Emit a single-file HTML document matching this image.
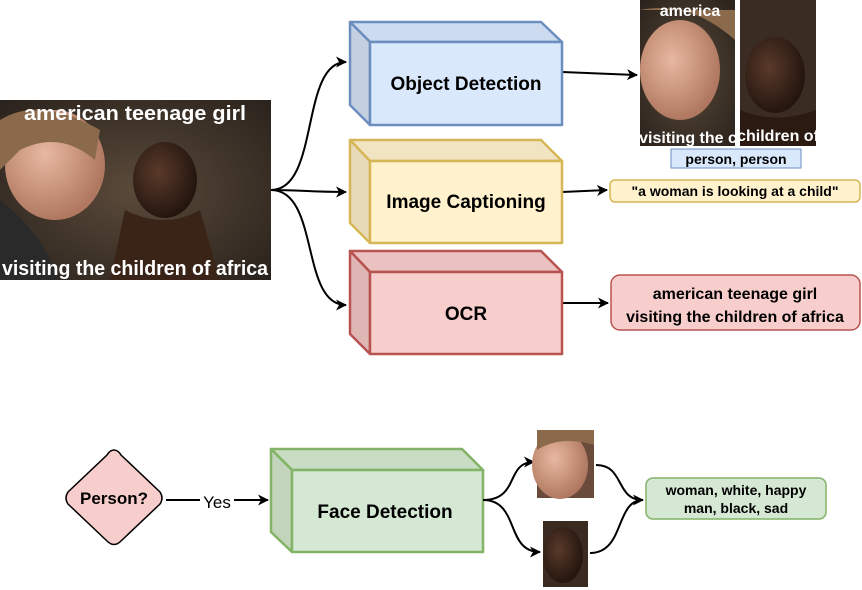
<!DOCTYPE html>
<html><head><meta charset="utf-8"><style>
html,body{margin:0;padding:0;background:#fff}
svg{display:block}
text{font-family:"Liberation Sans",Arial,sans-serif}
</style></head><body>
<svg width="862" height="590" viewBox="0 0 862 590" xmlns="http://www.w3.org/2000/svg">
<defs>
<marker id="ah" markerWidth="11" markerHeight="11" refX="10" refY="5.5" orient="auto" markerUnits="userSpaceOnUse"><path d="M0,0 L11,5.5 L0,11 L3,5.5 z" fill="#000"/></marker>
<radialGradient id="bg1" cx="0.5" cy="0.5" r="0.7"><stop offset="0" stop-color="#5a4a3a"/><stop offset="1" stop-color="#2a221c"/></radialGradient>
<radialGradient id="skinW" cx="0.4" cy="0.4" r="0.6"><stop offset="0" stop-color="#e8b8a0"/><stop offset="1" stop-color="#b07860"/></radialGradient>
<radialGradient id="skinB" cx="0.4" cy="0.4" r="0.6"><stop offset="0" stop-color="#5a3a2a"/><stop offset="1" stop-color="#24160f"/></radialGradient>
</defs>

<g>
<rect x="0" y="100" width="271" height="180" fill="url(#bg1)"/>
<ellipse cx="55" cy="165" rx="50" ry="55" fill="url(#skinW)"/>
<path d="M0,120 Q40,95 100,130 L95,160 Q60,130 20,150 L0,170z" fill="#8a6a4a"/>
<path d="M0,200 Q40,230 60,280 L0,280z" fill="#2a2a2a"/>
<ellipse cx="165" cy="180" rx="32" ry="38" fill="url(#skinB)"/>
<path d="M125,210 Q165,230 200,210 L220,280 L110,280z" fill="#3a2418"/>
<text x="135" y="120" text-anchor="middle" font-size="20" font-weight="bold" fill="#fff" textLength="222" lengthAdjust="spacingAndGlyphs">american teenage girl</text>
<text x="135" y="275" text-anchor="middle" font-size="20" font-weight="bold" fill="#fff" textLength="266" lengthAdjust="spacingAndGlyphs">visiting the children of africa</text>
</g>

<g fill="none" stroke="#000" stroke-width="2">
<path d="M271,190 C320,190 300,62 346,62" marker-end="url(#ah)"/>
<path d="M271,190 C300,190 310,192 346,192" marker-end="url(#ah)"/>
<path d="M271,190 C320,190 300,305 346,305" marker-end="url(#ah)"/>
<path d="M562,72 L637,75" marker-end="url(#ah)"/>
<path d="M562,192 L607,190" marker-end="url(#ah)"/>
<path d="M562,303 L608,303" marker-end="url(#ah)"/>
</g>

<g stroke="#6c8ebf" stroke-width="2.5" stroke-linejoin="round">
<polygon points="350,22 541,22 562,42 370,42" fill="#ccdbef"/>
<polygon points="350,22 370,42 370,125 350,105" fill="#c4d0e0"/>
<rect x="370" y="42" width="192" height="83" fill="#dae8fc"/>
<text x="466" y="90" text-anchor="middle" font-size="19" font-weight="bold" stroke="none" fill="#000">Object Detection</text>
</g>
<g stroke="#d6b656" stroke-width="2.5" stroke-linejoin="round">
<polygon points="350,140 541,140 562,161 370,161" fill="#f1e4c2"/>
<polygon points="350,140 370,161 370,243 350,223" fill="#e6dab8"/>
<rect x="370" y="161" width="192" height="82" fill="#fff2cc"/>
<text x="466" y="208" text-anchor="middle" font-size="19" font-weight="bold" stroke="none" fill="#000">Image Captioning</text>
</g>
<g stroke="#b85450" stroke-width="2.5" stroke-linejoin="round">
<polygon points="350,251 541,251 562,272 370,272" fill="#ebc2c1"/>
<polygon points="350,251 370,272 370,354 350,334" fill="#e0b6b5"/>
<rect x="370" y="272" width="192" height="82" fill="#f8cecc"/>
<text x="466" y="320" text-anchor="middle" font-size="19" font-weight="bold" stroke="none" fill="#000">OCR</text>
</g>

<g>
<rect x="640" y="0" width="95" height="146" fill="url(#bg1)"/>
<ellipse cx="680" cy="70" rx="40" ry="50" fill="url(#skinW)"/>
<path d="M640,10 Q690,0 735,40 L735,10z" fill="#8a6a4a"/>
<text x="690" y="16" text-anchor="middle" font-size="16" font-weight="bold" fill="#fff">america</text>
<text x="688" y="143" text-anchor="middle" font-size="16" font-weight="bold" fill="#fff">visiting the c</text>
</g>
<g>
<rect x="740" y="0" width="76" height="146" fill="#3a2c22"/>
<ellipse cx="775" cy="75" rx="30" ry="38" fill="url(#skinB)"/>
<path d="M740,110 Q775,125 816,110 L816,146 L740,146z" fill="#2a1a12"/>
<text x="778" y="141" text-anchor="middle" font-size="16" font-weight="bold" fill="#fff">children of</text>
</g>
<g>
<rect x="671" y="149" width="130" height="19" fill="#dae8fc" stroke="#6c8ebf" stroke-width="1"/>
<text x="736" y="164" text-anchor="middle" font-size="14" font-weight="bold" fill="#000">person, person</text>
</g>
<g>
<rect x="610" y="180" width="250" height="22" rx="5" fill="#fff2cc" stroke="#d6b656" stroke-width="1.5"/>
<text x="735" y="196" text-anchor="middle" font-size="14" font-weight="bold" fill="#000">"a woman is looking at a child"</text>
</g>
<g>
<rect x="611" y="275" width="249" height="55" rx="9" fill="#f8cecc" stroke="#b85450" stroke-width="1.5"/>
<text x="735" y="299" text-anchor="middle" font-size="16" font-weight="bold" fill="#000">american teenage girl</text>
<text x="735" y="322" text-anchor="middle" font-size="16" font-weight="bold" fill="#000">visiting the children of africa</text>
</g>

<g>
<path d="M114,450 Q118,450 121,455 L160,492 Q164,498 160,504 L121,541 Q114,548 107,541 L68,504 Q64,498 68,492 L107,455 Q110,450 114,450z" fill="#f8cecc" stroke="#000" stroke-width="1.5"/>
<text x="114" y="504" text-anchor="middle" font-size="17" font-weight="bold" fill="#000">Person?</text>
</g>
<path d="M166,500 L200,500" stroke="#000" stroke-width="2" fill="none"/>
<text x="217" y="508" text-anchor="middle" font-size="17" fill="#000">Yes</text>
<path d="M234,500 L268,500" stroke="#000" stroke-width="2" fill="none" marker-end="url(#ah)"/>

<g stroke="#82b366" stroke-width="2.5" stroke-linejoin="round">
<polygon points="271,449 462,449 483,470 292,470" fill="#c9dcc4"/>
<polygon points="271,449 292,470 292,552 271,532" fill="#c2d4bc"/>
<rect x="292" y="470" width="191" height="82" fill="#d5e8d4"/>
<text x="385" y="518" text-anchor="middle" font-size="19" font-weight="bold" stroke="none" fill="#000">Face Detection</text>
</g>

<g fill="none" stroke="#000" stroke-width="2">
<path d="M483,500 C520,500 505,462 534,462" marker-end="url(#ah)"/>
<path d="M483,500 C520,500 505,552 540,552" marker-end="url(#ah)"/>
<path d="M596,465 C625,465 615,500 643,500" marker-end="url(#ah)"/>
<path d="M590,553 C625,553 615,500 643,500"/>
</g>

<g>
<rect x="537" y="430" width="57" height="68" fill="#6a4a3a"/>
<ellipse cx="560" cy="465" rx="28" ry="34" fill="url(#skinW)"/>
<path d="M537,430 L594,430 L594,445 Q560,435 537,450z" fill="#8a6a4a"/>
</g>
<g>
<rect x="543" y="521" width="45" height="66" fill="#3a2a20"/>
<ellipse cx="563" cy="555" rx="20" ry="28" fill="url(#skinB)"/>
</g>

<g>
<rect x="646" y="478" width="180" height="41" rx="7" fill="#d5e8d4" stroke="#82b366" stroke-width="1.5"/>
<text x="736" y="495" text-anchor="middle" font-size="14" font-weight="bold" fill="#000">woman, white, happy</text>
<text x="736" y="513" text-anchor="middle" font-size="14" font-weight="bold" fill="#000">man, black, sad</text>
</g>
</svg>
</body></html>
